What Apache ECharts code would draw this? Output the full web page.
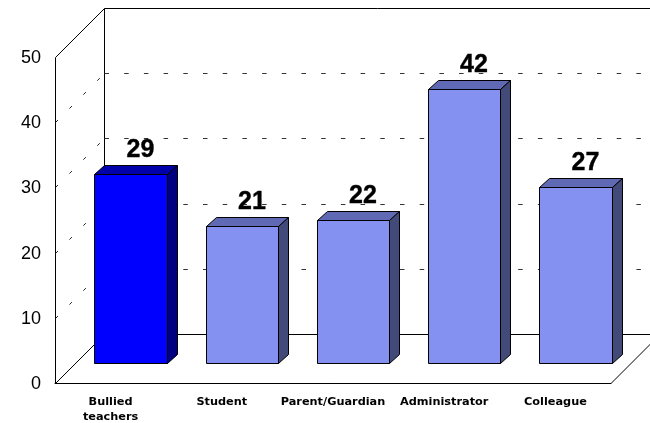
<!DOCTYPE html>
<html>
<head>
<meta charset="utf-8">
<style>html,body{margin:0;padding:0;background:#fff}#c{width:650px;height:423px}</style>
<script src="https://cdn.jsdelivr.net/npm/echarts@6/dist/echarts.min.js"></script>
</head>
<body>
<div id="c"></div>
<script>
var categories = ['Bullied\nteachers', 'Student', 'Parent/Guardian', 'Administrator', 'Colleague'];
var values = [29, 21, 22, 42, 27];
var yTicks = [0, 10, 20, 30, 40, 50];
var highlightIndex = 0;

var WALL = {dx: 49, dy: 49};
var BAR = {insetX: 20, insetY: 20, halfWidth: 36.2, dx: 10, dy: 9};
var COLORS = {
  normal: {front: '#8491f0', top: '#5f69b4', side: '#424a7a'},
  highlight: {front: '#0000ff', top: '#0000aa', side: '#000080'}
};
var LABEL_FONT = 'bold 25px "Liberation Sans", Arial, sans-serif';
var TICK_FONT = '18px "Liberation Sans", Arial, sans-serif';

function line(x1, y1, x2, y2, dash, color) {
  return {
    type: 'line',
    shape: {x1: x1, y1: y1, x2: x2, y2: y2},
    style: {stroke: color || '#000', lineWidth: 1, lineDash: dash || null, fill: null}
  };
}
function renderWall(params, api) {
  var cs = params.coordSys;
  var v = api.value(0);
  var y = Math.round(api.coord([0, v])[1]) + 0.5;
  var x0 = cs.x + 0.5;
  var x1 = cs.x + cs.width;
  var solid = v === yTicks[0] || v === yTicks[yTicks.length - 1];
  var kids = [
    line(x0, y, x0 + WALL.dx, y - WALL.dy, solid ? null : [3.5, 16.2], solid ? '#000' : '#222'),
    line(x0 + WALL.dx, y - WALL.dy, x1 + WALL.dx, y - WALL.dy, solid ? null : [4.5, 15.2], solid ? '#000' : '#333'),
    {
      type: 'text',
      style: {text: String(v), x: cs.x - 14, y: y + 1, font: TICK_FONT, fill: '#000', align: 'right', verticalAlign: 'middle'}
    }
  ];
  if (v === yTicks[0]) {
    kids.push(line(x1, y, x1 + WALL.dx, y - WALL.dy));
    var yTop = Math.round(api.coord([0, yTicks[yTicks.length - 1]])[1]) + 0.5;
    kids.push(line(x0, y, x0, yTop));
    kids.push(line(x0 + WALL.dx, y - WALL.dy, x0 + WALL.dx, yTop - WALL.dy));
  }
  return {type: 'group', children: kids};
}
function poly(points, fill) {
  return {
    type: 'polygon',
    shape: {points: points},
    style: {fill: fill, stroke: '#000', lineWidth: 1, lineJoin: 'miter'}
  };
}
function renderBar(params, api) {
  var i = api.value(0);
  var v = api.value(1);
  var base = api.coord([i, 0]);
  var top = api.coord([i, v]);
  var c = i === highlightIndex ? COLORS.highlight : COLORS.normal;
  var l = Math.round(base[0] + BAR.insetX - BAR.halfWidth) + 0.5;
  var r = Math.round(base[0] + BAR.insetX + BAR.halfWidth) + 0.5;
  var b = Math.round(base[1] - BAR.insetY) + 0.5;
  var t = Math.round(top[1] - BAR.insetY) + 0.5;
  var dx = BAR.dx, dy = BAR.dy;
  return {
    type: 'group',
    children: [
      poly([[l, b], [r, b], [r, t], [l, t]], c.front),
      poly([[l, t], [r, t], [r + dx, t - dy], [l + dx, t - dy]], c.top),
      poly([[r, b], [r + dx, b - dy], [r + dx, t - dy], [r, t]], c.side),
      {
        type: 'text',
        style: {
          text: String(v), x: (l + r) / 2 + 9.5, y: t - 24.5,
          font: LABEL_FONT, fill: '#000', stroke: '#000', lineWidth: 0.4,
          align: 'center', verticalAlign: 'middle'
        }
      }
    ]
  };
}

var chart = echarts.init(document.getElementById('c'), null, {renderer: 'canvas'});
chart.setOption({
  animation: false,
  backgroundColor: '#fff',
  grid: {left: 55, right: 39, top: 57, bottom: 40, outerBoundsMode: 'none'},
  xAxis: {
    type: 'category',
    data: categories,
    boundaryGap: true,
    axisLine: {show: true, lineStyle: {color: '#000', width: 1}},
    axisTick: {show: false},
    splitLine: {show: false},
    axisLabel: {
      interval: 0, margin: 12, lineHeight: 15, color: '#000',
      fontFamily: '"DejaVu Sans"', fontWeight: 'bold', fontSize: 11.3
    }
  },
  yAxis: {
    type: 'value', min: 0, max: 50, interval: 10,
    axisLine: {show: false},
    axisTick: {show: false},
    splitLine: {show: false},
    axisLabel: {show: false}
  },
  series: [
    {
      type: 'custom', silent: true, z: 1,
      renderItem: renderWall,
      data: yTicks.map(function (v) { return [v]; }),
      encode: {y: 0}
    },
    {
      type: 'custom', silent: true, z: 2,
      renderItem: renderBar,
      data: values.map(function (v, i) { return [i, v]; }),
      encode: {x: 0, y: 1}
    }
  ]
});
</script>
</body>
</html>
